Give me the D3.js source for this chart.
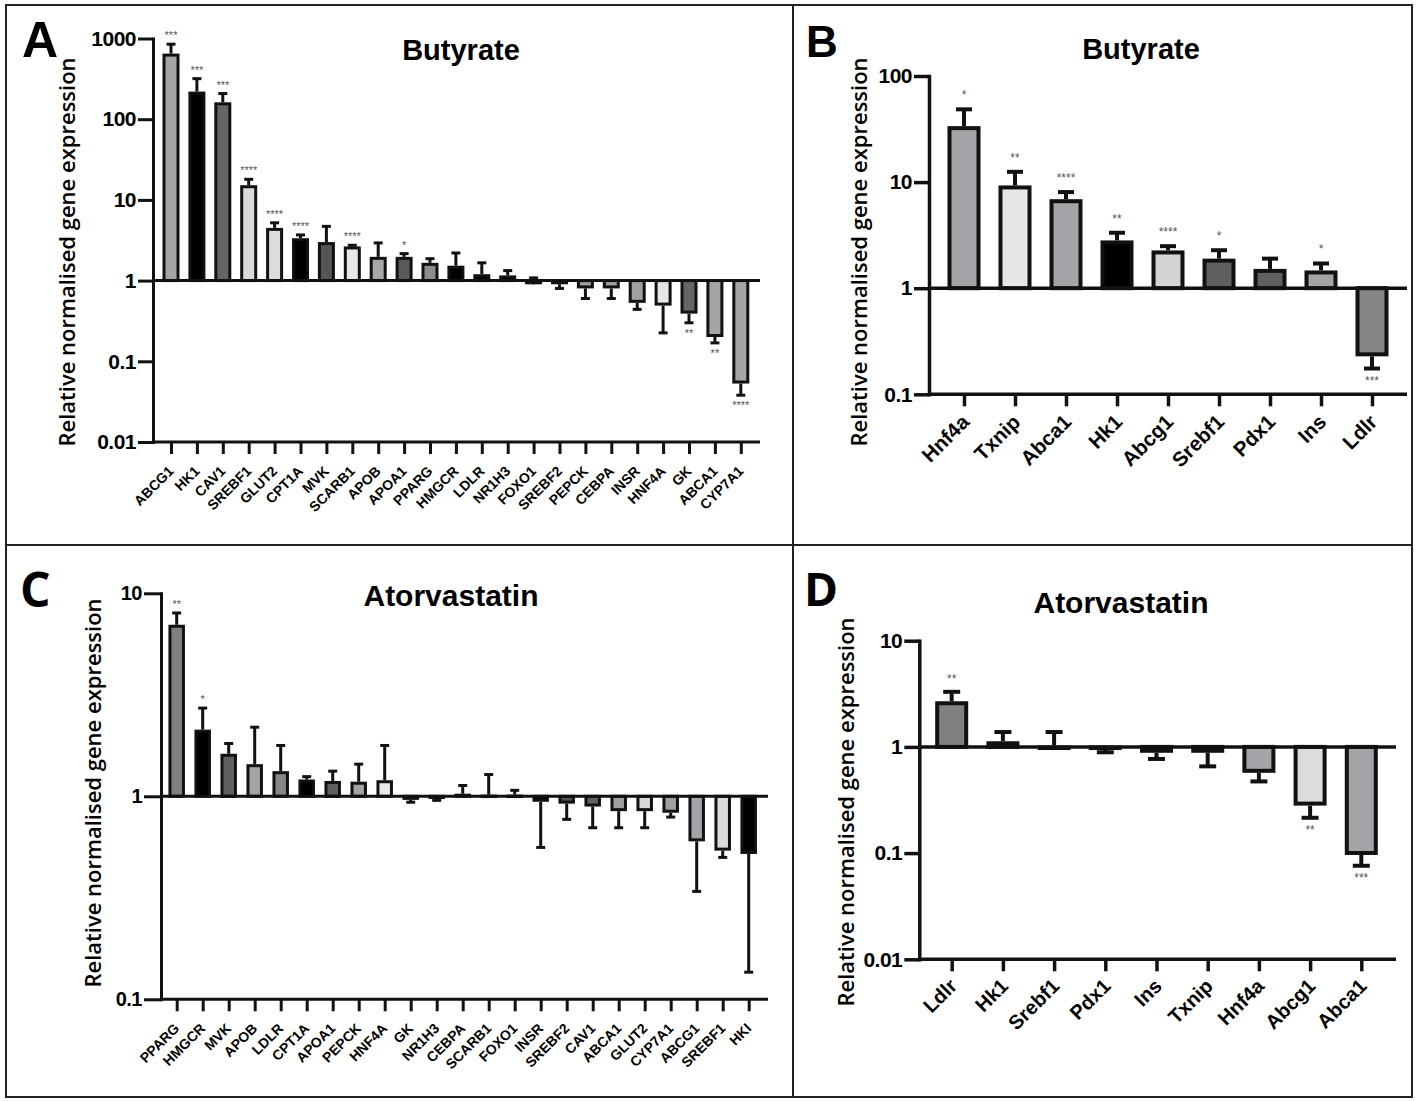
<!DOCTYPE html>
<html>
<head>
<meta charset="utf-8">
<script src="https://cdn.jsdelivr.net/npm/d3@7"></script>
<style>
  body { margin: 0; background: #fff; }
  svg { display: block; }
</style>
</head>
<body>
<svg id="fig" width="1418" height="1101"></svg>
<script>
// ---------- Panel A: butyrate, human gene panel ----------
const aGenes  = ["ABCG1","HK1","CAV1","SREBF1","GLUT2","CPT1A","MVK","SCARB1","APOB","APOA1","PPARG","HMGCR",
                 "LDLR","NR1H3","FOXO1","SREBF2","PEPCK","CEBPA","INSR","HNF4A","GK","ABCA1","CYP7A1"];
const aValues = [650, 220, 162, 15.2, 4.5, 3.35, 3.0, 2.65, 1.97, 1.97, 1.66, 1.53,
                 1.2, 1.16, 0.9, 0.9, 0.8, 0.8, 0.53, 0.49, 0.39, 0.2, 0.053];
const aErrors = [850, 318, 208, 18, 5.2, 3.68, 4.7, 2.74, 2.93, 2.16, 1.87, 2.2,
                 1.66, 1.33, 1.08, 0.8, 0.6, 0.6, 0.44, 0.225, 0.3, 0.169, 0.038];
const aStars  = ["***","***","***","****","****","****","","****","","*","","",
                 "","","","","","","","","**","**","****"];
const aFills  = ["#a3a3a8","#000000","#666666","#d9d9d9","#dcdcdc","#000000","#555555","#e8e8e8","#a8a8a8","#5a5a5a","#8c8c8c","#000000",
                 "#000000","#000000","#000000","#000000","#a0a0a0","#a0a0a0","#a0a0a0","#e6e6e6","#666666","#a3a3a8","#a3a3a8"];
const aTicks  = [0.01, 0.1, 1, 10, 100, 1000];
const aTickLabels = ["0.01","0.1","1","10","100","1000"];

// ---------- Panel B: butyrate, mouse gene panel ----------
const bGenes  = ["Hnf4a","Txnip","Abca1","Hk1","Abcg1","Srebf1","Pdx1","Ins","Ldlr"];
const bValues = [33.7, 9.3, 6.9, 2.82, 2.27, 1.9, 1.52, 1.47, 0.228];
const bErrors = [48.5, 12.5, 8.05, 3.33, 2.49, 2.28, 1.9, 1.71, 0.175];
const bStars  = ["*","**","****","**","****","*","","*","***"];
const bFills  = ["#a3a3a8","#e6e6e6","#a3a3a8","#000000","#d4d4d4","#606060","#606060","#a3a3a3","#858585"];
const bTicks  = [0.1, 1, 10, 100];
const bTickLabels = ["0.1","1","10","100"];

// ---------- Panel C: atorvastatin, human gene panel ----------
const cGenes  = ["PPARG","HMGCR","MVK","APOB","LDLR","CPT1A","APOA1","PEPCK","HNF4A","GK","NR1H3","CEBPA",
                 "SCARB1","FOXO1","INSR","SREBF2","CAV1","ABCA1","GLUT2","CYP7A1","ABCG1","SREBF1","HKI"];
const cValues = [7.0, 2.13, 1.62, 1.44, 1.33, 1.21, 1.19, 1.18, 1.2, 0.96, 0.97, 1.03,
                 1.02, 1.02, 0.94, 0.92, 0.89, 0.845, 0.845, 0.83, 0.6, 0.54, 0.52];
const cErrors = [8.0, 2.72, 1.82, 2.19, 1.78, 1.25, 1.33, 1.44, 1.78, 0.935, 0.955, 1.13,
                 1.28, 1.07, 0.56, 0.77, 0.70, 0.70, 0.70, 0.79, 0.34, 0.50, 0.136];
const cStars  = ["**","*","","","","","","","","","","",
                 "","","","","","","","","","",""];
const cFills  = ["#808080","#000000","#606060","#a3a3a8","#858585","#000000","#606060","#a3a3a3","#e8e8e8","#000000","#000000","#000000",
                 "#000000","#000000","#000000","#555555","#606060","#a0a0a0","#d8d8d8","#a0a0a0","#a3a3a8","#dcdcdc","#000000"];
const cTicks  = [0.1, 1, 10];
const cTickLabels = ["0.1","1","10"];

// ---------- Panel D: atorvastatin, mouse gene panel ----------
const dGenes  = ["Ldlr","Hk1","Srebf1","Pdx1","Ins","Txnip","Hnf4a","Abcg1","Abca1"];
const dValues = [2.69, 1.13, 1.03, 1.03, 0.88, 0.88, 0.57, 0.28, 0.096];
const dErrors = [3.3, 1.38, 1.38, 0.89, 0.77, 0.656, 0.473, 0.215, 0.076];
const dStars  = ["**","","","","","","","**","***"];
const dFills  = ["#808080","#000000","#000000","#000000","#404040","#505050","#a3a3a8","#dcdcdc","#a3a3a8"];
const dTicks  = [0.01, 0.1, 1, 10];
const dTickLabels = ["0.01","0.1","1","10"];

const yLabelText = "Relative normalised gene expression";

// ---------- Geometry for each panel ----------
const panels = [
  { letter: "A", title: "Butyrate", genes: aGenes, values: aValues, errs: aErrors, stars: aStars, fills: aFills,
    ticks: aTicks, tickLabels: aTickLabels,
    L: { axisX: 153, xFirst: 171, xLast: 740.8, xEnd: 760, yTop: 38.5, yBot: 442,
         barW: 17, sw: 3, axisW: 3, capW: 9, yTickLen: 15, xTickLen: 12, tickFont: 21,
         labFont: 14, labDX: 3, labDY: 30, starFont: 11, starUp: 5, starDown: 14,
         letterX: 22, letterY: 57, letterFont: "Liberation Sans", letterSize: 50,
         titleX: 461, titleY: 60, titleSize: 29, ylabX: 75, ylabY: 252 } },
  { letter: "B", title: "Butyrate", genes: bGenes, values: bValues, errs: bErrors, stars: bStars, fills: bFills,
    ticks: bTicks, tickLabels: bTickLabels,
    L: { axisX: 929, xFirst: 964, xLast: 1372, xEnd: 1407, yTop: 76, yBot: 394.3,
         barW: 33, sw: 4, axisW: 3.5, capW: 16, yTickLen: 15, xTickLen: 12, tickFont: 21,
         labFont: 20.5, labDX: 6, labDY: 29, starFont: 12, starUp: 10, starDown: 16,
         letterX: 806, letterY: 57, letterFont: "Liberation Sans", letterSize: 44,
         titleX: 1141, titleY: 59, titleSize: 29, ylabX: 867, ylabY: 252 } },
  { letter: "C", title: "Atorvastatin", genes: cGenes, values: cValues, errs: cErrors, stars: cStars, fills: cFills,
    ticks: cTicks, tickLabels: cTickLabels,
    L: { axisX: 161, xFirst: 176.7, xLast: 748.7, xEnd: 768, yTop: 593.3, yBot: 999.3,
         barW: 16.5, sw: 3, axisW: 3, capW: 9, yTickLen: 17, xTickLen: 12, tickFont: 20,
         labFont: 14, labDX: 3, labDY: 30, starFont: 11, starUp: 5, starDown: 14,
         letterX: 20, letterY: 607, letterFont: "Open Sans", letterSize: 48,
         titleX: 451, titleY: 606, titleSize: 30, ylabX: 101, ylabY: 793 } },
  { letter: "D", title: "Atorvastatin", genes: dGenes, values: dValues, errs: dErrors, stars: dStars, fills: dFills,
    ticks: dTicks, tickLabels: dTickLabels,
    L: { axisX: 919.3, xFirst: 951.7, xLast: 1361.3, xEnd: 1396, yTop: 640.7, yBot: 959.3,
         barW: 33, sw: 4, axisW: 3.5, capW: 17, yTickLen: 15, xTickLen: 12, tickFont: 21,
         labFont: 20, labDX: 6, labDY: 28, starFont: 12, starUp: 9, starDown: 16,
         letterX: 804, letterY: 606, letterFont: "Open Sans", letterSize: 46,
         titleX: 1121, titleY: 613, titleSize: 30, ylabX: 854, ylabY: 812 } }
];

const svg = d3.select("#fig");
const INK = "#111";

// Outer frame and panel dividers
svg.append("rect").attr("x", 6).attr("y", 5).attr("width", 1406).attr("height", 1092)
  .attr("fill", "none").attr("stroke", "#222").attr("stroke-width", 2);
svg.append("line").attr("x1", 793).attr("x2", 793).attr("y1", 5).attr("y2", 1097)
  .attr("stroke", "#222").attr("stroke-width", 2);
svg.append("line").attr("x1", 6).attr("x2", 1412).attr("y1", 545).attr("y2", 545)
  .attr("stroke", "#222").attr("stroke-width", 2);

function drawPanel(p) {
  const L = p.L;
  const g = svg.append("g");
  const x = d3.scalePoint().domain(p.genes).range([L.xFirst, L.xLast]);
  const y = d3.scaleLog().domain([p.ticks[0], p.ticks[p.ticks.length - 1]]).range([L.yBot, L.yTop]);
  const y1 = y(1);

  // Error bars (drawn first so the bar covers the stem)
  const eb = g.append("g").attr("stroke", INK).attr("stroke-width", L.sw).attr("fill", "none");
  p.genes.forEach((gene, i) => {
    const cx = x(gene);
    eb.append("line").attr("x1", cx).attr("x2", cx)
      .attr("y1", y(p.values[i])).attr("y2", y(p.errs[i]));
    eb.append("line").attr("x1", cx - L.capW / 2).attr("x2", cx + L.capW / 2)
      .attr("y1", y(p.errs[i])).attr("y2", y(p.errs[i]));
  });

  // Bars grow from the reference level 1 on the log axis
  g.append("g").selectAll("rect").data(p.genes).join("rect")
    .attr("x", d => x(d) - (L.barW - L.sw) / 2)
    .attr("width", L.barW - L.sw)
    .attr("y", (d, i) => p.values[i] >= 1 ? y(p.values[i]) + L.sw / 2 : y1)
    .attr("height", (d, i) => Math.max(Math.abs(y(p.values[i]) - y1) - L.sw / 2, 0.5))
    .attr("fill", (d, i) => p.fills[i])
    .attr("stroke", INK)
    .attr("stroke-width", L.sw);

  // Significance marks
  g.append("g").selectAll("text").data(p.genes).join("text")
    .attr("x", d => x(d))
    .attr("y", (d, i) => {
      const v = p.values[i], e = p.errs[i];
      return v >= 1 ? Math.min(y(v), y(e)) - L.starUp : Math.max(y(v), y(e)) + L.starDown;
    })
    .attr("text-anchor", "middle")
    .attr("font-family", "Liberation Sans, Arial, sans-serif")
    .attr("font-size", L.starFont)
    .attr("fill", "#555")
    .text((d, i) => p.stars[i]);

  // Y axis (log scale, decade ticks)
  const ya = g.append("g").attr("transform", `translate(${L.axisX},0)`)
    .call(d3.axisLeft(y).tickValues(p.ticks).tickFormat((d, i) => p.tickLabels[i])
      .tickSize(L.yTickLen).tickSizeOuter(0).tickPadding(2));
  ya.select(".domain").attr("stroke", INK).attr("stroke-width", L.axisW).attr("stroke-linecap", "square");
  ya.selectAll(".tick line").attr("stroke", INK).attr("stroke-width", L.axisW);
  ya.selectAll(".tick text").attr("fill", "#000")
    .attr("font-family", "Liberation Sans, Arial, sans-serif").attr("font-weight", "bold")
    .attr("font-size", L.tickFont).attr("letter-spacing", -0.5);

  // X axis with rotated gene names
  const xa = g.append("g").attr("transform", `translate(0,${L.yBot})`)
    .call(d3.axisBottom(x).tickSize(L.xTickLen).tickSizeOuter(0));
  xa.select(".domain").remove();
  xa.selectAll(".tick line").attr("stroke", INK).attr("stroke-width", L.axisW);
  xa.selectAll(".tick text")
    .attr("x", 0).attr("y", 0).attr("dy", null)
    .attr("transform", `translate(${L.labDX},${L.labDY}) rotate(-45)`)
    .attr("text-anchor", "end")
    .attr("fill", "#000")
    .attr("font-family", "Liberation Sans, Arial, sans-serif").attr("font-weight", "bold")
    .attr("font-size", L.labFont);
  g.append("line").attr("x1", L.axisX).attr("x2", L.xEnd).attr("y1", L.yBot).attr("y2", L.yBot)
    .attr("stroke", INK).attr("stroke-width", L.axisW);

  // Reference line at 1
  g.append("line").attr("x1", L.axisX).attr("x2", L.xEnd).attr("y1", y1).attr("y2", y1)
    .attr("stroke", INK).attr("stroke-width", L.axisW);

  // Panel letter, title and y-axis label
  g.append("text").attr("x", L.letterX).attr("y", L.letterY)
    .attr("font-family", L.letterFont + ", sans-serif").attr("font-weight", "bold")
    .attr("font-size", L.letterSize).attr("fill", "#000").text(p.letter);
  g.append("text").attr("x", L.titleX).attr("y", L.titleY).attr("text-anchor", "middle")
    .attr("font-family", "Liberation Sans, Arial, sans-serif").attr("font-weight", "bold")
    .attr("font-size", L.titleSize).attr("fill", "#000").text(p.title);
  g.append("text").attr("transform", `translate(${L.ylabX},${L.ylabY}) rotate(-90)`)
    .attr("text-anchor", "middle")
    .attr("font-family", "Open Sans, sans-serif").attr("font-weight", 600)
    .attr("font-size", 22).attr("fill", "#000").text(yLabelText);
}

panels.forEach(drawPanel);
</script>
</body>
</html>
